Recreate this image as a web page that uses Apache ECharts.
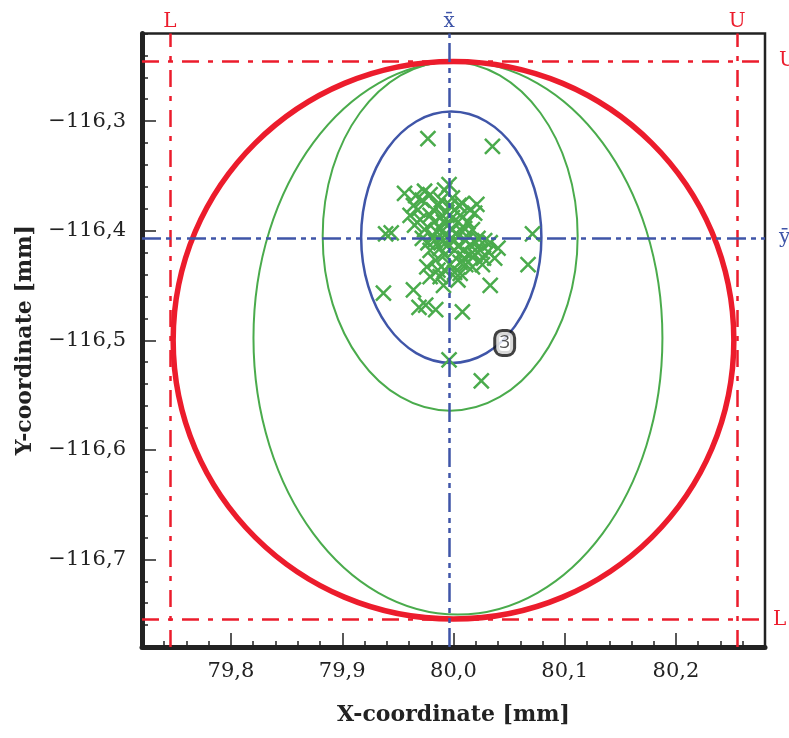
<!DOCTYPE html>
<html>
<head>
<meta charset="utf-8">
<script src="https://cdn.jsdelivr.net/npm/echarts@6/dist/echarts.min.js"></script>
<style>
html,body{margin:0;padding:0;background:#fff;}
#chart{width:789px;height:738px;}
</style>
</head>
<body>
<div id="chart"></div>
<script>
// ---- axis ranges and tick labels ----
const X_MIN = 79.72, X_MAX = 80.28;
const Y_MIN = -116.78, Y_MAX = -116.22;
const X_TICKS = [79.8, 79.9, 80.0, 80.1, 80.2];
const Y_TICKS = [-116.7, -116.6, -116.5, -116.4, -116.3];
const MINOR_STEP = 0.02;

// ---- specification limits (L / U) and means ----
const X_SPEC = [79.745, 80.255];
const Y_SPEC = [-116.755, -116.245];
const SPEC_NAMES = ['L', 'U'];
const X_MEAN = 79.996;
const Y_MEAN = -116.4066;

// ---- ellipses: [centerX, centerY, semiAxisX, semiAxisY] ----
const TOLERANCE_CIRCLE = [80.000, -116.500, 0.2520, 0.2545];
const ELLIPSE_OUTER = [80.004, -116.498, 0.1838, 0.2524];
const ELLIPSE_INNER = [79.997, -116.405, 0.1146, 0.1593];
const ELLIPSE_3SIGMA = [79.998, -116.406, 0.0810, 0.1147];
const ELLIPSE_LABEL = [80.046, -116.5025];
const ELLIPSE_LABEL_TEXT = '3';

// ---- measured points ----
const POINTS_X = [
  79.977, 80.035, 79.939, 79.944, 80.071, 80.067, 80.033, 79.937, 79.964, 79.969,
  79.975, 79.984, 80.008, 79.996, 80.025, 79.956, 79.964, 79.968, 79.974, 79.979,
  79.996, 79.992, 80.008, 80.021, 80.019, 80.033, 80.040, 80.037, 80.010, 80.017,
  80.006, 79.976, 79.986, 79.979, 79.988, 80.004, 80.024, 80.028, 80.015, 80.019,
  80.011, 80.001, 80.006, 79.997, 79.992, 79.979, 79.983, 79.974, 79.970, 79.961,
  79.965, 79.979, 79.986, 79.990, 79.997, 80.001, 79.995, 79.999, 79.992, 79.988,
  79.983, 80.004, 80.008, 80.001, 79.995, 79.990, 80.006, 80.013, 80.017, 80.022,
  80.010, 79.988, 79.999, 79.994, 79.985, 79.981, 80.002, 79.991, 79.998, 80.004,
  80.009, 80.015, 80.020, 80.031, 80.027, 79.972, 79.977, 79.984, 79.992, 80.001,
  79.989, 79.982, 79.972, 79.966, 79.999, 80.005, 80.015, 80.011, 80.026, 79.991
];
const POINTS_Y = [
  -116.316, -116.323, -116.403, -116.402, -116.403, -116.431, -116.450, -116.457, -116.454, -116.470,
  -116.468, -116.472, -116.474, -116.518, -116.537, -116.366, -116.377, -116.381, -116.364, -116.367,
  -116.358, -116.363, -116.375, -116.376, -116.384, -116.411, -116.416, -116.425, -116.425, -116.433,
  -116.439, -116.433, -116.436, -116.442, -116.442, -116.445, -116.418, -116.409, -116.413, -116.422,
  -116.409, -116.418, -116.429, -116.431, -116.422, -116.418, -116.409, -116.399, -116.390, -116.386,
  -116.395, -116.386, -116.377, -116.386, -116.377, -116.381, -116.395, -116.399, -116.404, -116.398,
  -116.392, -116.392, -116.401, -116.409, -116.413, -116.410, -116.386, -116.392, -116.399, -116.407,
  -116.398, -116.416, -116.388, -116.383, -116.401, -116.404, -116.403, -116.392, -116.407, -116.414,
  -116.418, -116.422, -116.411, -116.419, -116.425, -116.407, -116.411, -116.427, -116.436, -116.438,
  -116.372, -116.381, -116.372, -116.368, -116.370, -116.377, -116.381, -116.431, -116.431, -116.450
];

// ---- styles ----
const RED = '#ec1c2c';
const BLUE = '#3f55a8';
const GREEN = '#4aab4c';
const INK = '#222222';
const SERIF = '"DejaVu Serif", serif';

const fmtNum = v => (v < 0 ? '\u2212' : '') + Math.abs(v).toFixed(1).replace('.', ',');

const chart = echarts.init(document.getElementById('chart'), null, {renderer: 'canvas'});

function ellipseSeries(def, color, width, z) {
  return {
    type: 'custom',
    xAxisIndex: 0, yAxisIndex: 0,
    z: z,
    silent: true,
    clip: false,
    data: [def],
    renderItem: function (params, api) {
      const c = api.coord([api.value(0), api.value(1)]);
      const s = api.size([api.value(2), api.value(3)]);
      return {
        type: 'ellipse',
        shape: {cx: c[0], cy: c[1], rx: s[0], ry: s[1]},
        style: {fill: 'none', stroke: color, lineWidth: width}
      };
    }
  };
}

const RED_DASH = [17, 9, 5, 9];
const BLUE_DASH = [19, 5, 5, 5, 5, 6];

function vLine(x, text, color, dash) {
  return {
    xAxis: x,
    lineStyle: {color: color, width: 2.5, type: dash},
    label: {show: true, position: 'end', formatter: text, color: color,
            fontFamily: SERIF, fontSize: 20, distance: 2}
  };
}
function hLine(y, text, color, dash, dist) {
  return {
    yAxis: y,
    lineStyle: {color: color, width: 2.5, type: dash},
    label: {show: true, position: 'end', formatter: text, color: color,
            fontFamily: SERIF, fontSize: 20, distance: dist}
  };
}

const markLines = [
  vLine(X_SPEC[0], SPEC_NAMES[0], RED, RED_DASH),
  vLine(X_SPEC[1], SPEC_NAMES[1], RED, RED_DASH),
  hLine(Y_SPEC[1], SPEC_NAMES[1], RED, RED_DASH, 14),
  hLine(Y_SPEC[0], SPEC_NAMES[0], RED, RED_DASH, 8),
  vLine(X_MEAN, 'x\u0304', BLUE, BLUE_DASH),
  hLine(Y_MEAN, '\u0233', BLUE, BLUE_DASH, 14)
];

const points = POINTS_X.map((x, i) => [x, POINTS_Y[i]]);

const option = {
  animation: false,
  backgroundColor: '#ffffff',
  grid: {
    left: 142, right: 24, top: 33.5, bottom: 91,
    show: true, borderColor: INK, borderWidth: 2.5, backgroundColor: 'transparent'
  },
  xAxis: [
    {
      type: 'value', min: X_MIN, max: X_MAX, position: 'bottom',
      name: 'X-coordinate [mm]', nameLocation: 'middle', nameGap: 57,
      nameTextStyle: {fontFamily: SERIF, fontWeight: 'bold', fontSize: 22, color: INK},
      axisLine: {show: true, onZero: false, lineStyle: {color: INK, width: 5}},
      axisTick: {show: true, inside: true, length: 14, customValues: X_TICKS,
                 lineStyle: {color: INK, width: 1.5}},
      axisLabel: {show: true, customValues: X_TICKS, formatter: fmtNum, margin: 14,
                  fontFamily: SERIF, fontSize: 21, color: INK},
      splitLine: {show: false}
    },
    {
      type: 'value', min: X_MIN, max: X_MAX, interval: MINOR_STEP, position: 'bottom', offset: 0,
      axisLine: {show: false, onZero: false},
      axisTick: {show: true, inside: true, length: 6, lineStyle: {color: INK, width: 1.5}},
      axisLabel: {show: false},
      splitLine: {show: false}
    }
  ],
  yAxis: [
    {
      type: 'value', min: Y_MIN, max: Y_MAX, position: 'left',
      name: 'Y-coordinate [mm]', nameLocation: 'middle', nameGap: 106, nameRotate: 90,
      nameTextStyle: {fontFamily: SERIF, fontWeight: 'bold', fontSize: 22, color: INK},
      axisLine: {show: true, onZero: false, lineStyle: {color: INK, width: 5}},
      axisTick: {show: true, inside: true, length: 14, customValues: Y_TICKS,
                 lineStyle: {color: INK, width: 1.5}},
      axisLabel: {show: true, customValues: Y_TICKS, formatter: fmtNum, margin: 16,
                  fontFamily: SERIF, fontSize: 21, color: INK},
      splitLine: {show: false}
    },
    {
      type: 'value', min: Y_MIN, max: Y_MAX, interval: MINOR_STEP, position: 'left', offset: 0,
      axisLine: {show: false, onZero: false},
      axisTick: {show: true, inside: true, length: 6, lineStyle: {color: INK, width: 1.5}},
      axisLabel: {show: false},
      splitLine: {show: false}
    }
  ],
  series: [
    {
      type: 'line', xAxisIndex: 0, yAxisIndex: 0, data: [], z: 1, silent: true,
      markLine: {symbol: ['none', 'none'], silent: true, animation: false,
                 precision: 5, data: markLines}
    },
    ellipseSeries(ELLIPSE_OUTER, GREEN, 2, 2),
    ellipseSeries(ELLIPSE_INNER, GREEN, 2, 2),
    ellipseSeries(ELLIPSE_3SIGMA, BLUE, 2.5, 2),
    ellipseSeries(TOLERANCE_CIRCLE, RED, 5.5, 3),
    {
      type: 'scatter', xAxisIndex: 0, yAxisIndex: 0, z: 4, silent: true,
      symbol: 'path://M0,0L10,10M10,0L0,10', symbolSize: 15,
      itemStyle: {color: 'none', borderColor: GREEN, borderWidth: 2.5, opacity: 1},
      data: points
    },
    {
      type: 'scatter', xAxisIndex: 0, yAxisIndex: 0, z: 5, silent: true,
      symbolSize: 0,
      data: [ELLIPSE_LABEL],
      label: {
        show: true, position: 'inside', formatter: ELLIPSE_LABEL_TEXT,
        fontFamily: '"Open Sans", sans-serif', fontSize: 19, color: '#2a2a2a',
        backgroundColor: '#fff', borderColor: '#111', borderWidth: 3, borderRadius: 6,
        padding: [1, 3, 0, 3], lineHeight: 21
      }
    }
  ]
};

chart.setOption(option);
</script>
</body>
</html>
